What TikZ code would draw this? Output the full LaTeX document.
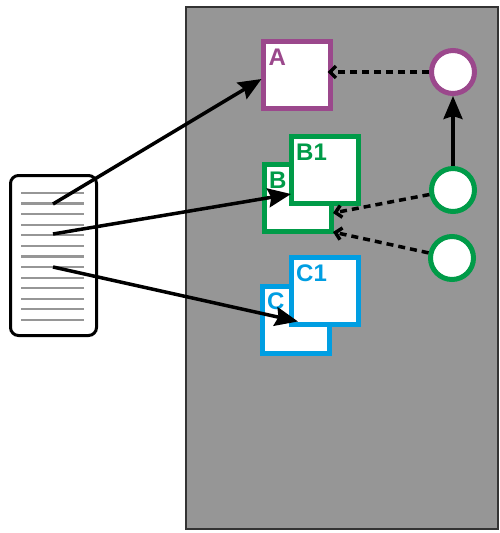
\documentclass[tikz,border=0pt]{standalone}
\usepackage{fontspec}
\setmainfont{Liberation Sans}
\usetikzlibrary{arrows.meta}
\definecolor{bgray}{RGB}{150,150,150}
\definecolor{mpurple}{RGB}{155,72,140}
\definecolor{mgreen}{RGB}{0,155,72}
\definecolor{mblue}{RGB}{0,158,226}
\definecolor{lgray}{RGB}{150,150,150}
\begin{document}
\begin{tikzpicture}[x=1pt,y=-1pt,
  box/.style n args={2}{draw=#1, line width=5pt, fill=white, minimum size=67pt,
    inner sep=0pt, outer sep=0pt,
    label={[anchor=north west, inner sep=0pt, text=#1,
      font=\fontsize{24}{24}\selectfont\bfseries, xshift=5pt, yshift=-7pt]north west:#2}},
  circ/.style={circle, draw=#1, line width=5pt, fill=white, minimum size=43pt,
    inner sep=0pt, outer sep=2.5pt},
  arr/.style={line width=3.5pt, -{Stealth[length=23pt,width=19pt,inset=3pt]}},
  dsh/.style={line width=3.5pt, dash pattern=on 7pt off 5pt,
    -{Straight Barb[length=6pt,width=12pt]}},
  docline/.style={lgray, line width=2.2pt}]
\useasboundingbox (0,0) rectangle (500,533);
\draw[fill=bgray, draw=black!80, line width=2.5pt] (186,7) rectangle (498,529);
% document
\node[draw, line width=3pt, rounded corners=8pt, fill=white,
  minimum width=86pt, minimum height=160pt, inner sep=0pt] (doc) at (53.5,255.5) {};
\foreach \i in {0,...,12}
  \draw[docline] (21,193+\i*10.58) -- (84,193+\i*10.58);
\coordinate (s1) at (53,204);
\coordinate (s2) at (53,234);
\coordinate (s3) at (53,267);
% boxes
\node[box={mpurple}{A}] (A) at (297,75) {};
\node[box={mgreen}{B}] (B) at (297.5,198) {};
\node[box={mgreen}{B1}] (B1) at (324.5,170) {};
\node[box={mblue}{C}] (C) at (295.5,319.5) {};
\node[box={mblue}{C1}] (C1) at (324.5,291) {};
% circles
\node[circ=mpurple] (p) at (453,72) {};
\node[circ=mgreen] (g1) at (453,190) {};
\node[circ=mgreen] (g2) at (452,258) {};
% connectors
\draw[arr] (s1) -- ([xshift=-2pt,yshift=-4pt]A.west);
\draw[arr] (s2) -- ([yshift=-24pt]B1.west);
\draw[arr] (s3) -- ([xshift=7pt,yshift=3pt]C1.south west);
\draw[arr] (g1) -- (p);
\draw[dsh] (p) -- ([xshift=-3pt,yshift=3pt]A.east);
\draw[dsh] (g1) -- ([xshift=2pt,yshift=-15pt]B.east);
\draw[dsh] (g2) -- ([xshift=2pt,yshift=-34pt]B.east);
\end{tikzpicture}
\end{document}
